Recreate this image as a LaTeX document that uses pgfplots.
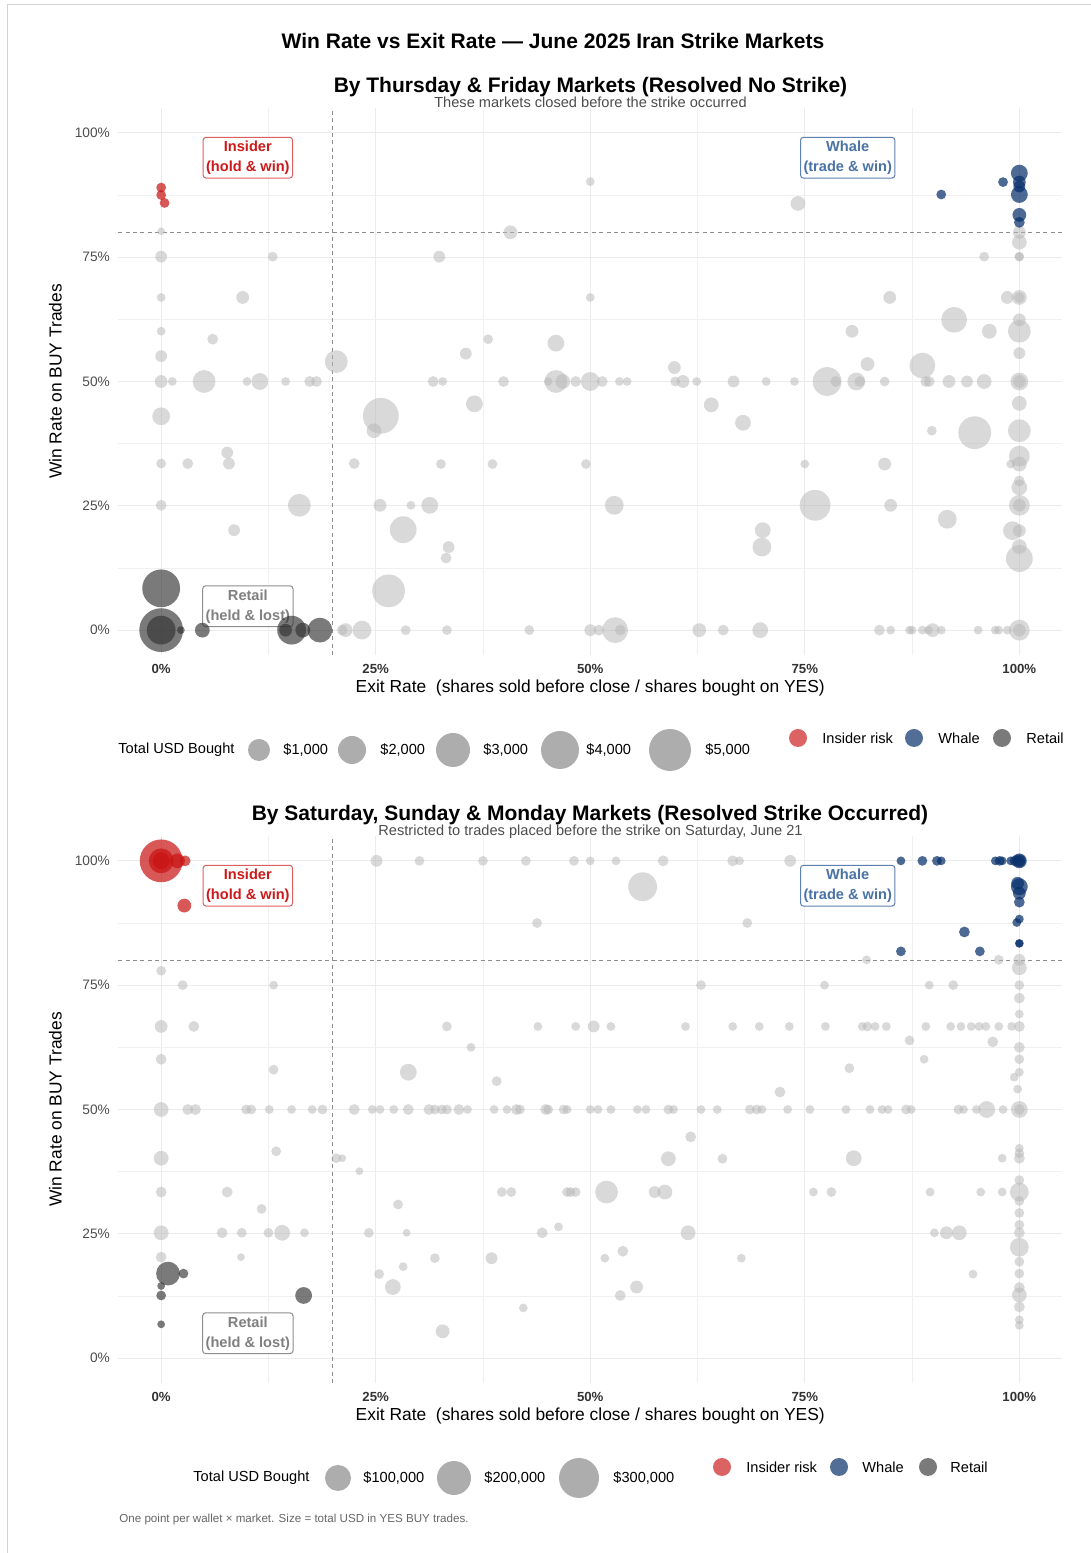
\documentclass[border=0pt]{standalone}
\usepackage{fontspec}
\setmainfont{Liberation Sans}
\usepackage{pgfplots}
\usepackage{pgfplotstable}
\pgfplotsset{compat=1.18}
\definecolor{ptgray}{RGB}{185,185,185}
\definecolor{insred}{RGB}{200,16,16}
\definecolor{whblue}{RGB}{8,48,107}
\definecolor{retgray}{RGB}{50,50,50}
\definecolor{gridc}{RGB}{235,235,235}
\definecolor{ytickc}{RGB}{77,77,77}
\definecolor{xtickc}{RGB}{50,50,50}
\definecolor{dashc}{RGB}{140,140,140}
\definecolor{lgray}{RGB}{173,173,173}
\definecolor{instext}{RGB}{205,25,25}
\definecolor{whtext}{RGB}{74,115,165}
\definecolor{rettext}{RGB}{128,128,128}

% ---------------- data: x = exit rate (%), y = win rate (%), d = point diameter (px) -------------
\pgfplotstableread[row sep=\\]{
x y d \\
0 80.2 7 \\ 0 75.1 11 \\ 13.0 75.1 9 \\ 0 66.9 8 \\ 9.5 66.9 12 \\ 0 60.1 8 \\ 6.0 58.5 10 \\ 0 55.1 11 \\ 20.4 54.0 22 \\
0 50 12 \\ 1.3 50 8 \\ 5.0 50 22 \\ 10.0 50 8 \\ 11.5 50 16 \\ 14.5 50 8 \\ 17.3 50 10 \\ 18.1 50 10 \\
31.7 50 10 \\ 32.8 50 8 \\ 39.9 50 10 \\ 45.1 50 8 \\ 46.0 50 22 \\ 46.8 50 14 \\ 48.3 50 10 \\ 50.0 50 18 \\
51.4 50 10 \\ 53.4 50 8 \\ 54.3 50 8 \\ 59.9 50 9 \\ 60.8 50 12 \\ 62.4 50 8 \\ 66.7 50 11 \\ 70.5 50 8 \\
73.8 50 8 \\ 77.6 50 28 \\ 78.6 50 10 \\ 81.0 50 17 \\ 81.4 50 10 \\ 84.3 50 9 \\ 89.1 50 10 \\ 89.5 50 10 \\
91.8 50 12 \\ 93.9 50 11 \\ 95.9 50 14 \\ 100 50 17 \\ 100 50 12 \\
0 43.0 17 \\ 25.6 43.1 35 \\ 24.8 40.1 14 \\ 7.7 35.7 11 \\ 0 33.5 9 \\ 3.1 33.5 10 \\ 7.9 33.5 11 \\ 22.5 33.5 10 \\
32.6 33.4 9 \\ 38.6 33.4 9 \\ 49.5 33.4 9 \\ 0 25.1 10 \\ 16.1 25.1 22 \\ 25.5 25.1 12 \\ 29.1 25.1 8 \\ 31.3 25.1 16 \\
52.8 25.1 18 \\ 8.5 20.1 11 \\ 28.2 20.2 26 \\ 33.5 16.7 11 \\ 33.2 14.5 10 \\ 26.5 7.9 32 \\
21.1 0 10 \\ 21.5 0 13 \\ 23.4 0 18 \\ 28.5 0 9 \\ 33.3 0 9 \\ 42.9 0 9 \\ 50.0 0 11 \\ 51.0 0 10 \\ 52.9 0 25 \\
53.5 0 10 \\ 62.7 0 13 \\ 65.5 0 10 \\ 69.8 0 15 \\ 83.7 0 10 \\ 85.0 0 8 \\ 87.2 0 8 \\ 87.5 0 8 \\ 88.7 0 8 \\
89.4 0 8 \\ 89.9 0 13 \\ 90.9 0 8 \\ 95.2 0 8 \\ 97.2 0 8 \\ 97.6 0 8 \\ 98.6 0 8 \\ 100 0 20 \\ 100 0 12 \\
50.0 90.2 8 \\ 40.7 80.0 13 \\ 32.4 75.1 11 \\ 50.0 66.9 8 \\ 38.1 58.5 9 \\ 35.5 55.6 11 \\ 46.0 57.7 16 \\
59.8 52.8 12 \\ 36.5 45.5 16 \\ 64.1 45.3 14 \\ 67.8 41.7 15 \\ 70.1 20.1 15 \\ 70.0 16.7 18 \\
74.2 85.8 14 \\ 100 80.0 12 \\ 100 78.0 14 \\ 95.9 75.1 9 \\ 100 75.1 9 \\ 100 75.1 8 \\ 84.9 66.9 12 \\
98.6 66.9 12 \\ 100 66.9 14 \\ 100 66.9 10 \\ 92.4 62.4 25 \\ 100 62.4 12 \\ 80.5 60.1 12 \\ 96.5 60.1 14 \\
100 60.1 22 \\ 82.3 53.5 13 \\ 88.7 53.2 25 \\ 100 55.7 11 \\ 100 45.6 14 \\ 89.8 40.1 9 \\ 94.8 39.7 32 \\
100 40.1 22 \\ 75.0 33.4 8 \\ 84.3 33.4 12 \\ 99.0 33.4 8 \\ 100 33.4 14 \\ 100 35.0 20 \\ 100 30.0 10 \\
100 28.7 15 \\ 76.2 25.1 30 \\ 85.0 25.1 12 \\ 100 25.1 20 \\ 100 25.1 12 \\ 91.6 22.3 18 \\ 99.2 20.0 18 \\
100 20.0 12 \\ 100 16.8 14 \\ 100 14.4 26 \\
}\TopGray
\pgfplotstableread[row sep=\\]{
x y d \\
0 8.4 37 \\ 0 0 43 \\ 0 0 28 \\ 2.3 0 7 \\ 4.8 0 14 \\ 14.5 0 12 \\ 15.2 0 28 \\ 16.5 0 14 \\ 18.5 0 24 \\
}\TopRetail
\pgfplotstableread[row sep=\\]{
x y d \\
100 91.9 16 \\ 100 90.1 12 \\ 98.1 90.1 9 \\ 100 89.2 11 \\ 100 87.6 16 \\ 90.9 87.6 9 \\ 100 83.5 13 \\ 100 82.0 10 \\
}\TopWhale
\pgfplotstableread[row sep=\\]{
x y d \\
0 89.0 9 \\ 0 87.5 9 \\ 0.4 85.9 9 \\
}\TopInsider

\pgfplotstableread[row sep=\\]{
x y d \\
25.1 100 11 \\ 30.1 100 9 \\ 37.5 100 9 \\ 42.5 100 9 \\ 48.1 100 9 \\ 50.0 100 8 \\ 53.0 100 8 \\ 58.5 100 10 \\
66.6 100 10 \\ 67.4 100 8 \\ 73.3 100 11 \\ 56.1 94.8 28 \\ 43.8 87.5 9 \\ 68.3 87.5 9 \\ 82.2 80.1 8 \\ 97.6 80.1 9 \\
100 80.1 11 \\ 100 78.5 14 \\ 0 77.9 9 \\ 2.5 75.0 9 \\ 13.1 75.0 8 \\ 62.9 75.0 9 \\ 77.3 75.0 8 \\ 89.5 75.0 8 \\
92.3 75.0 9 \\ 100 75.0 9 \\ 100 72.4 10 \\ 100 69.2 8 \\
0 66.7 12 \\ 3.8 66.7 10 \\ 33.3 66.7 9 \\ 43.9 66.7 8 \\ 48.3 66.7 8 \\ 50.4 66.7 11 \\ 52.4 66.7 8 \\ 61.1 66.7 8 \\
66.6 66.7 8 \\ 69.7 66.7 8 \\ 73.2 66.7 8 \\ 77.4 66.7 8 \\ 81.7 66.7 8 \\ 82.3 66.7 9 \\ 83.2 66.7 8 \\ 84.5 66.7 8 \\
89.1 66.7 8 \\ 92.0 66.7 8 \\ 93.2 66.7 8 \\ 94.4 66.7 8 \\ 95.3 66.7 8 \\ 96.1 66.7 8 \\ 97.6 66.7 8 \\ 99.1 66.7 8 \\
100 66.7 10 \\ 87.2 63.9 9 \\ 96.9 63.6 10 \\ 100 62.5 10 \\ 36.1 62.5 8 \\ 0 60.1 10 \\ 88.9 60.1 8 \\ 100 60.1 9 \\
13.1 58.0 9 \\ 28.8 57.5 16 \\ 80.2 58.3 9 \\ 100 57.5 8 \\ 99.4 56.5 8 \\ 39.1 55.7 9 \\ 72.1 53.5 10 \\ 99.8 54.1 8 \\
0 50 14 \\ 3.1 50 10 \\ 4.0 50 10 \\ 9.9 50 9 \\ 10.5 50 9 \\ 12.6 50 8 \\ 15.2 50 8 \\ 17.6 50 8 \\ 18.8 50 9 \\
22.5 50 10 \\ 24.6 50 8 \\ 25.5 50 8 \\ 27.1 50 8 \\ 28.8 50 10 \\ 31.2 50 10 \\ 31.9 50 9 \\ 32.7 50 9 \\ 33.3 50 9 \\
34.7 50 10 \\ 35.7 50 8 \\ 38.8 50 8 \\ 40.3 50 8 \\ 41.4 50 10 \\ 41.8 50 9 \\ 44.8 50 10 \\ 45.1 50 9 \\ 46.9 50 9 \\
47.3 50 8 \\ 50.0 50 8 \\ 50.9 50 8 \\ 52.4 50 8 \\ 55.5 50 8 \\ 56.5 50 8 \\ 59.1 50 9 \\ 59.7 50 8 \\ 62.9 50 8 \\
64.8 50 8 \\ 68.6 50 9 \\ 69.4 50 9 \\ 70.0 50 8 \\ 73.0 50 8 \\ 75.6 50 8 \\ 79.8 50 8 \\ 82.6 50 8 \\ 84.0 50 8 \\
84.7 50 8 \\ 86.8 50 9 \\ 87.4 50 8 \\ 92.9 50 9 \\ 93.5 50 8 \\ 95.0 50 8 \\ 96.2 50 16 \\ 98.1 50 8 \\ 100 50 16 \\ 100 50 10 \\
0 40.2 14 \\ 13.4 41.6 9 \\ 20.4 40.2 9 \\ 21.1 40.2 7 \\ 23.1 37.6 7 \\ 61.7 44.5 10 \\ 59.1 40.1 14 \\ 65.4 40.1 9 \\
80.7 40.2 15 \\ 98.0 40.2 8 \\ 100 42.2 8 \\ 100 41.2 9 \\ 100 40.2 10 \\
0 33.4 10 \\ 7.7 33.4 10 \\ 39.7 33.4 9 \\ 40.8 33.4 9 \\ 47.3 33.4 9 \\ 47.7 33.4 9 \\ 48.3 33.4 9 \\ 51.9 33.4 22 \\
57.5 33.4 11 \\ 58.7 33.4 14 \\ 76.0 33.4 8 \\ 78.1 33.4 9 \\ 89.6 33.4 8 \\ 95.5 33.4 8 \\ 98.0 33.4 8 \\ 100 33.4 18 \\
100 35.8 9 \\ 100 31.6 9 \\ 11.7 30.0 9 \\ 27.6 30.9 9 \\ 100 29.2 9 \\ 100 26.8 9 \\
0 25.2 14 \\ 7.1 25.2 10 \\ 9.4 25.2 9 \\ 12.5 25.2 9 \\ 14.1 25.2 15 \\ 16.7 25.2 8 \\ 24.2 25.2 9 \\ 28.6 25.2 7 \\
44.4 25.2 10 \\ 61.4 25.2 14 \\ 90.1 25.2 8 \\ 91.5 25.2 12 \\ 93.0 25.2 14 \\ 100 25.2 10 \\ 46.3 26.4 8 \\
0 20.3 10 \\ 9.3 20.3 7 \\ 31.9 20.1 9 \\ 38.5 20.1 11 \\ 51.7 20.1 8 \\ 53.8 21.5 10 \\ 67.6 20.1 8 \\ 28.2 18.4 8 \\
25.4 16.9 9 \\ 27.0 14.3 15 \\ 55.4 14.3 12 \\ 53.5 12.6 10 \\ 42.2 10.1 8 \\ 32.8 5.4 13 \\
100 22.3 18 \\ 100 19.4 9 \\ 100 17.0 9 \\ 94.6 16.9 8 \\ 100 14.2 10 \\ 100 12.7 14 \\ 100 10.3 10 \\ 100 7.7 8 \\ 100 6.6 8 \\
}\BotGray
\pgfplotstableread[row sep=\\]{
x y d \\
0.8 17.0 23 \\ 2.6 17.0 9 \\ 0 14.5 7 \\ 0 12.6 9 \\ 16.6 12.6 16 \\ 0 6.8 7 \\
}\BotRetail
\pgfplotstableread[row sep=\\]{
x y d \\
86.2 100 8 \\ 88.7 100 9 \\ 90.4 100 9 \\ 90.9 100 8 \\ 97.2 100 8 \\ 97.7 100 9 \\ 98.0 100 8 \\ 99.0 100 8 \\
99.5 100 10 \\ 100 100 14 \\ 100 100 12 \\ 100 100 10 \\
99.8 95.5 12 \\ 100 94.8 16 \\ 100 93.5 12 \\ 100 91.7 10 \\ 100 88.3 8 \\ 99.7 87.6 8 \\ 93.6 85.7 10 \\
100 83.4 8 \\ 100 83.4 7 \\ 86.2 81.8 9 \\ 95.4 81.8 9 \\
}\BotWhale
\pgfplotstableread[row sep=\\]{
x y d \\
0 100 42 \\ 0 100 24 \\ 0 100 16 \\ 1.9 100 14 \\ 2.8 100 10 \\ 2.7 91.0 13 \\
}\BotInsider

\pgfplotsset{
  panel/.style={
    scale only axis, width=472pt, height=273.5pt,
    xmin=-5, xmax=105, ymin=-5, ymax=105,
    axis line style={draw=none},
    major tick length=0pt, minor tick length=0pt,
    xtick={0,25,50,75,100}, ytick={0,25,50,75,100},
    minor xtick={12.5,37.5,62.5,87.5}, minor ytick={12.5,37.5,62.5,87.5},
    xticklabels={0\%,25\%,50\%,75\%,100\%},
    yticklabels={0\%,25\%,50\%,75\%,100\%},
    grid=both,
    major grid style={gridc, line width=0.5pt},
    minor grid style={gridc!75!white, line width=0.35pt},
    xticklabel style={font=\fontsize{6.6}{8}\selectfont\bfseries, text=xtickc, inner sep=0pt, anchor=north, yshift=-4.5pt},
    yticklabel style={font=\fontsize{6.85}{8}\selectfont, text=ytickc, inner sep=0pt, anchor=east, xshift=-4pt},
    xlabel={Exit Rate\ \ (shares sold before close / shares bought on YES)},
    ylabel={Win Rate on BUY Trades},
    xlabel style={font=\fontsize{8.7}{10}\selectfont, at={(axis description cs:0.5,-0.0603)}, anchor=center, inner sep=0pt},
    ylabel style={font=\fontsize{8.7}{10}\selectfont, at={(axis description cs:-0.0667,0.5)}, anchor=center, inner sep=0pt, rotate=0},
    clip=false,
  },
  bubble/.style 2 args={
    scatter, only marks, mark=*, point meta=0,
    scatter/use mapped color={draw opacity=0, fill=#1, fill opacity=#2},
    visualization depends on={(\thisrow{d}+0.8)/4 \as \prad},
    scatter/@pre marker code/.append style={/tikz/mark size=\prad},
  },
}
\tikzset{
  lab/.style={draw, fill=white, rounded corners=1.5pt, align=center, inner xsep=1.5pt, inner ysep=1.8pt,
    font=\fontsize{7.3}{10}\selectfont\bfseries, line width=0.5pt},
  lgtext/.style={anchor=west, inner sep=0pt, font=\fontsize{7.3}{9}\selectfont},
}

\begin{document}
\begin{tikzpicture}
\path[use as bounding box] (0,0) rectangle (545.5pt,776.5pt);
\draw[gray!35, line width=0.5pt] (3.5pt,0pt) -- (3.5pt,774pt) -- (545.5pt,774pt);

% titles
\node[font=\fontsize{10.5}{12}\selectfont\bfseries] at (276.5pt,756pt) {Win Rate vs Exit Rate — June 2025 Iran Strike Markets};
\node[font=\fontsize{10.5}{12}\selectfont\bfseries] at (295.25pt,733pt) {By Thursday \& Friday Markets (Resolved No Strike)};
\node[font=\fontsize{7.3}{9}\selectfont, text=black!70] at (295.25pt,725.5pt) {These markets closed before the strike occurred};
\node[font=\fontsize{10.5}{12}\selectfont\bfseries] at (295pt,369pt) {By Saturday, Sunday \& Monday Markets (Resolved Strike Occurred)};
\node[font=\fontsize{7.3}{9}\selectfont, text=black!70] at (295.25pt,360.5pt) {Restricted to trades placed before the strike on Saturday, June 21};

% ---------------- top panel ----------------
\begin{axis}[panel, at={(59.125pt,449pt)}, anchor=south west]
\draw[dashc, line width=0.6pt, dash pattern=on 2pt off 1.7pt] (axis cs:20,-5) -- (axis cs:20,105);
\draw[dashc, line width=0.6pt, dash pattern=on 2pt off 1.7pt] (axis cs:-5,80) -- (axis cs:105,80);
\addplot[bubble={ptgray}{0.55}] table[x=x,y=y] {\TopGray};
\addplot[bubble={retgray}{0.65}] table[x=x,y=y] {\TopRetail};
\addplot[bubble={whblue}{0.72}] table[x=x,y=y] {\TopWhale};
\addplot[bubble={insred}{0.7}] table[x=x,y=y] {\TopInsider};
\node[lab, draw=instext!70, text=instext] at (axis cs:10.1,95) {Insider\\(hold \& win)};
\node[lab, draw=whtext!90, text=whtext] at (axis cs:80,95) {Whale\\(trade \& win)};
\node[lab, draw=rettext!90, text=rettext] at (axis cs:10.1,4.8) {Retail\\(held \& lost)};
\end{axis}

% top legends
\node[lgtext] at (59pt,401.5pt) {Total USD Bought};
\node[circle, fill=lgray, minimum size=11pt, inner sep=0pt] at (129.5pt,401.5pt) {};
\node[circle, fill=lgray, minimum size=14pt, inner sep=0pt] at (176pt,401.5pt) {};
\node[circle, fill=lgray, minimum size=17pt, inner sep=0pt] at (226.5pt,401.5pt) {};
\node[circle, fill=lgray, minimum size=19pt, inner sep=0pt] at (280pt,401.5pt) {};
\node[circle, fill=lgray, minimum size=21pt, inner sep=0pt] at (335pt,401.5pt) {};
\node[lgtext] at (141.5pt,401.5pt) {\$1,000};
\node[lgtext] at (190pt,401.5pt) {\$2,000};
\node[lgtext] at (241.5pt,401.5pt) {\$3,000};
\node[lgtext] at (293pt,401.5pt) {\$4,000};
\node[lgtext] at (352.5pt,401.5pt) {\$5,000};
\node[circle, fill=insred, fill opacity=0.65, minimum size=9pt, inner sep=0pt] at (399pt,407.5pt) {};
\node[circle, fill=whblue, fill opacity=0.7, minimum size=9pt, inner sep=0pt] at (457pt,407.5pt) {};
\node[circle, fill=retgray, fill opacity=0.65, minimum size=9pt, inner sep=0pt] at (501pt,407.5pt) {};
\node[lgtext] at (411pt,407.5pt) {Insider risk};
\node[lgtext] at (469pt,407.5pt) {Whale};
\node[lgtext] at (513pt,407.5pt) {Retail};

% ---------------- bottom panel ----------------
\begin{axis}[panel, at={(59.125pt,85pt)}, anchor=south west]
\draw[dashc, line width=0.6pt, dash pattern=on 2pt off 1.7pt] (axis cs:20,-5) -- (axis cs:20,105);
\draw[dashc, line width=0.6pt, dash pattern=on 2pt off 1.7pt] (axis cs:-5,80) -- (axis cs:105,80);
\addplot[bubble={ptgray}{0.55}] table[x=x,y=y] {\BotGray};
\addplot[bubble={retgray}{0.65}] table[x=x,y=y] {\BotRetail};
\addplot[bubble={whblue}{0.72}] table[x=x,y=y] {\BotWhale};
\addplot[bubble={insred}{0.7}] table[x=x,y=y] {\BotInsider};
\node[lab, draw=instext!70, text=instext] at (axis cs:10.1,95) {Insider\\(hold \& win)};
\node[lab, draw=whtext!90, text=whtext] at (axis cs:80,95) {Whale\\(trade \& win)};
\node[lab, draw=rettext!90, text=rettext] at (axis cs:10.1,5) {Retail\\(held \& lost)};
\end{axis}

% bottom legends
\node[lgtext] at (96.5pt,37.5pt) {Total USD Bought};
\node[circle, fill=lgray, minimum size=13pt, inner sep=0pt] at (169pt,37.5pt) {};
\node[circle, fill=lgray, minimum size=17pt, inner sep=0pt] at (227pt,37.5pt) {};
\node[circle, fill=lgray, minimum size=20pt, inner sep=0pt] at (289.5pt,37.5pt) {};
\node[lgtext] at (181.5pt,37.5pt) {\$100,000};
\node[lgtext] at (242pt,37.5pt) {\$200,000};
\node[lgtext] at (306.5pt,37.5pt) {\$300,000};
\node[circle, fill=insred, fill opacity=0.65, minimum size=9pt, inner sep=0pt] at (361pt,43pt) {};
\node[circle, fill=whblue, fill opacity=0.7, minimum size=9pt, inner sep=0pt] at (419.5pt,43pt) {};
\node[circle, fill=retgray, fill opacity=0.65, minimum size=9pt, inner sep=0pt] at (464pt,43pt) {};
\node[lgtext] at (373pt,43pt) {Insider risk};
\node[lgtext] at (431pt,43pt) {Whale};
\node[lgtext] at (475pt,43pt) {Retail};

\node[anchor=west, inner sep=0pt, font=\fontsize{5.8}{7}\selectfont, text=black!60] at (59.5pt,16.5pt) {One point per wallet × market. Size = total USD in YES BUY trades.};
\end{tikzpicture}
\end{document}
